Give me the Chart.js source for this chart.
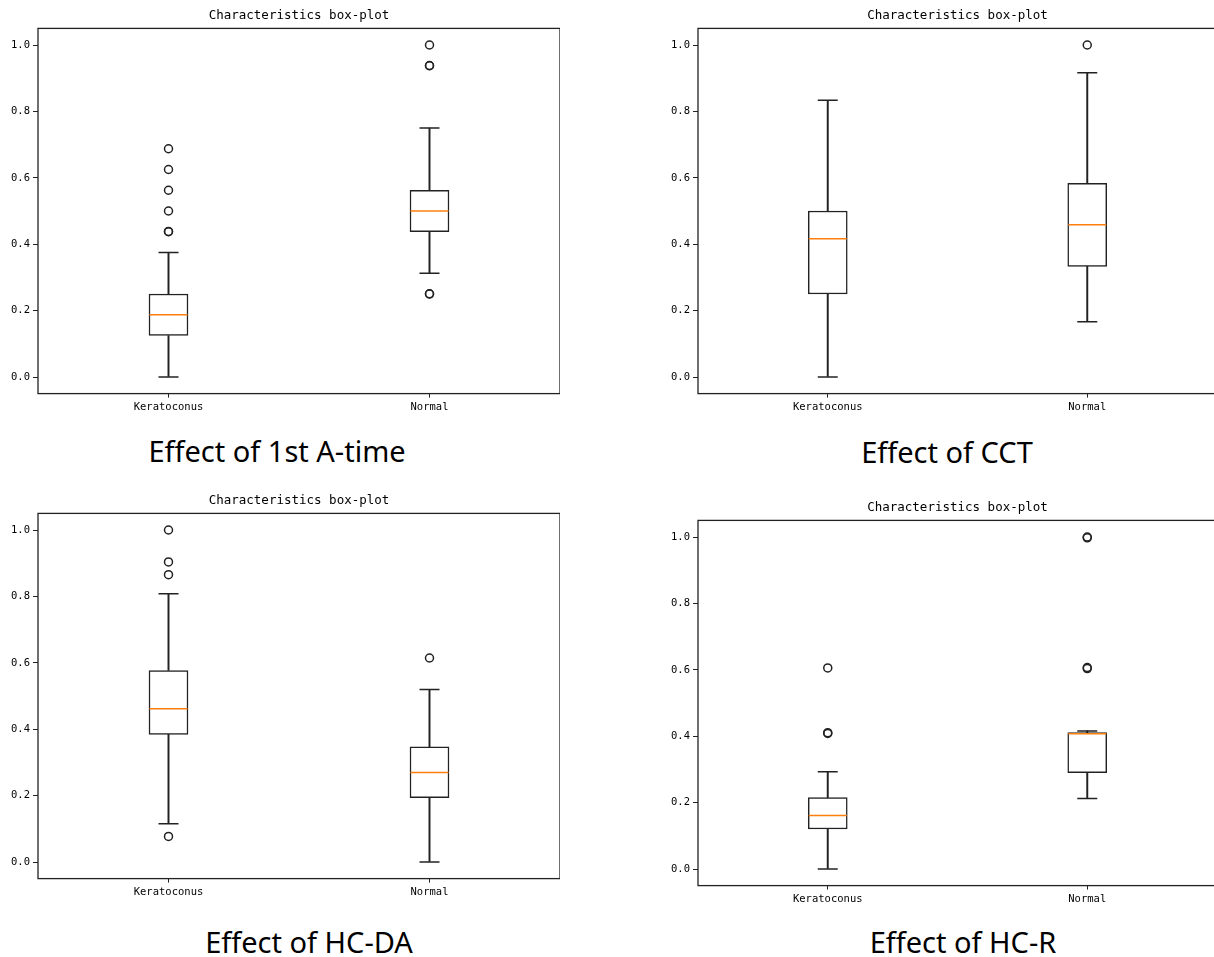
<!DOCTYPE html>
<html>
<head>
<meta charset="utf-8">
<script src="https://cdn.jsdelivr.net/npm/chart.js@4.4.0/dist/chart.umd.min.js"></script>
<style>
  html, body { margin: 0; padding: 0; background: #fff; }
  body { width: 1214px; height: 957px; overflow: hidden; position: relative; }
  .panel { position: absolute; }
  .caption {
    position: absolute;
    font-family: "Noto Sans", "Open Sans", sans-serif;
    font-size: 29px;
    line-height: 29px;
    color: #000;
    white-space: nowrap;
    transform: translateX(-50%);
  }
</style>
</head>
<body>
<div class="panel" style="left:0px;top:0px;width:560px;height:420px"><canvas id="c1"></canvas></div>
<div class="panel" style="left:660px;top:0px;width:557px;height:420px"><canvas id="c2"></canvas></div>
<div class="panel" style="left:0px;top:485.3px;width:560px;height:420px"><canvas id="c3"></canvas></div>
<div class="panel" style="left:660px;top:491.6px;width:557px;height:420px"><canvas id="c4"></canvas></div>

<div class="caption" style="left:277px;top:436px">Effect of 1st A-time</div>
<div class="caption" style="left:947px;top:437px">Effect of CCT</div>
<div class="caption" style="left:309px;top:927px">Effect of HC-DA</div>
<div class="caption" style="left:963px;top:927px">Effect of HC-R</div>

<script>
const categories = ["Keratoconus", "Normal"];
const yTicks = [0, 0.2, 0.4, 0.6, 0.8, 1.0];
const chartTitle = "Characteristics box-plot";

// [whisker low, Q1, median, Q3, whisker high]
const atimeKer = [0, 0.125, 0.1875, 0.25, 0.375];
const atimeNor = [0.3125, 0.4375, 0.5, 0.5625, 0.75];
const atimeKerOut = [0.4375, 0.4385, 0.5, 0.5625, 0.625, 0.6875];
const atimeNorOut = [0.25, 0.2505, 0.9375, 0.938, 1.0];

const cctKer = [0, 0.25, 0.4167, 0.5, 0.8333];
const cctNor = [0.1667, 0.3333, 0.4583, 0.5833, 0.9167];
const cctKerOut = [];
const cctNorOut = [1.0];

const hcdaKer = [0.1154, 0.3846, 0.4615, 0.5769, 0.8077];
const hcdaNor = [0, 0.1935, 0.2694, 0.3468, 0.5194];
const hcdaKerOut = [0.0769, 0.8654, 0.9038, 1.0];
const hcdaNorOut = [0.6145];

const hcrKer = [0, 0.1206, 0.1608, 0.2151, 0.293];
const hcrNor = [0.2121, 0.2903, 0.4076, 0.411, 0.416];
const hcrKerOut = [0.4085, 0.4105, 0.6056];
const hcrNorOut = [0.6037, 0.6067, 0.9975, 1.0];

const ink = "#222";
const medianColor = "#ff7f0e";
const monoFont = "'DejaVu Sans Mono', monospace";

function boxDatasets(stats, outliers) {
  return [
    {
      type: "bar", label: "whiskers",
      data: stats.flatMap((s, i) => [{ x: i + 1, y: [s[0], s[1]] }, { x: i + 1, y: [s[3], s[4]] }]),
      backgroundColor: ink, borderWidth: 0, barThickness: 1.3, grouped: false, order: 5
    },
    {
      type: "bar", label: "boxes",
      data: stats.map((s, i) => ({ x: i + 1, y: [s[1], s[3]] })),
      backgroundColor: "#fff", borderColor: ink, borderWidth: 1.5, borderSkipped: false,
      barThickness: 39, grouped: false, order: 4
    },
    {
      type: "scatter", label: "caps",
      data: stats.flatMap((s, i) => [{ x: i + 1, y: s[0] }, { x: i + 1, y: s[4] }]),
      pointStyle: "line", radius: 10, borderColor: ink, borderWidth: 1.5, order: 3
    },
    {
      type: "scatter", label: "median",
      data: stats.map((s, i) => ({ x: i + 1, y: s[2] })),
      pointStyle: "line", radius: 19, borderColor: medianColor, borderWidth: 1.5, order: 2
    },
    {
      type: "scatter", label: "outliers",
      data: outliers.flatMap((o, i) => o.map(v => ({ x: i + 1, y: v }))),
      pointStyle: "circle", radius: 4, borderColor: ink, backgroundColor: "rgba(0,0,0,0)",
      borderWidth: 1.5, order: 1
    }
  ];
}

// frame round the axes and the title centred between the two boxes
const framePlugin = {
  id: "frame",
  afterDatasetsDraw(chart) {
    const a = chart.chartArea;
    const ctx = chart.ctx;
    ctx.save();
    ctx.strokeStyle = ink;
    ctx.lineWidth = 1.3;
    ctx.strokeRect(a.left, a.top, a.right - a.left, a.bottom - a.top);
    const mid = (chart.scales.x.getPixelForValue(1) + chart.scales.x.getPixelForValue(2)) / 2;
    ctx.fillStyle = "#000";
    ctx.font = "12.5px " + monoFont;
    ctx.textAlign = "center";
    ctx.textBaseline = "middle";
    ctx.fillText(chartTitle, mid, a.top - 12.5);
    ctx.restore();
  }
};

function makeChart(id, stats, outliers) {
  new Chart(document.getElementById(id), {
    type: "bar",
    data: { datasets: boxDatasets(stats, outliers) },
    options: {
      responsive: true,
      maintainAspectRatio: false,
      animation: false,
      events: [],
      layout: { autoPadding: false, padding: { top: 28.4, right: 0, left: 0, bottom: 0 } },
      plugins: { legend: { display: false }, title: { display: false }, tooltip: { enabled: false } },
      scales: {
        x: {
          type: "linear", min: 0.5, max: 2.5, offset: false,
          afterBuildTicks: s => { s.ticks = categories.map((c, i) => ({ value: i + 1 })); },
          afterFit: s => { s.height = 26.4; },
          ticks: {
            callback: (v, i) => categories[i],
            font: { family: monoFont, size: 10.5 }, color: "#000", padding: 3,
            maxRotation: 0, autoSkip: false
          },
          grid: { display: true, offset: false, drawOnChartArea: false, drawTicks: true, tickLength: 4, tickColor: ink, tickWidth: 1 },
          border: { display: false }
        },
        y: {
          type: "linear", min: -0.05, max: 1.05,
          afterBuildTicks: s => { s.ticks = yTicks.map(v => ({ value: v })); },
          afterFit: s => { s.width = 38; },
          ticks: {
            callback: v => Number(v).toFixed(1),
            font: { family: monoFont, size: 10.5 }, color: "#000", padding: 3
          },
          grid: { display: true, drawOnChartArea: false, drawTicks: true, tickLength: 5, tickColor: ink, tickWidth: 1 },
          border: { display: false }
        }
      }
    },
    plugins: [framePlugin]
  });
}

makeChart("c1", [atimeKer, atimeNor], [atimeKerOut, atimeNorOut]);
makeChart("c2", [cctKer, cctNor], [cctKerOut, cctNorOut]);
makeChart("c3", [hcdaKer, hcdaNor], [hcdaKerOut, hcdaNorOut]);
makeChart("c4", [hcrKer, hcrNor], [hcrKerOut, hcrNorOut]);
</script>
</body>
</html>
